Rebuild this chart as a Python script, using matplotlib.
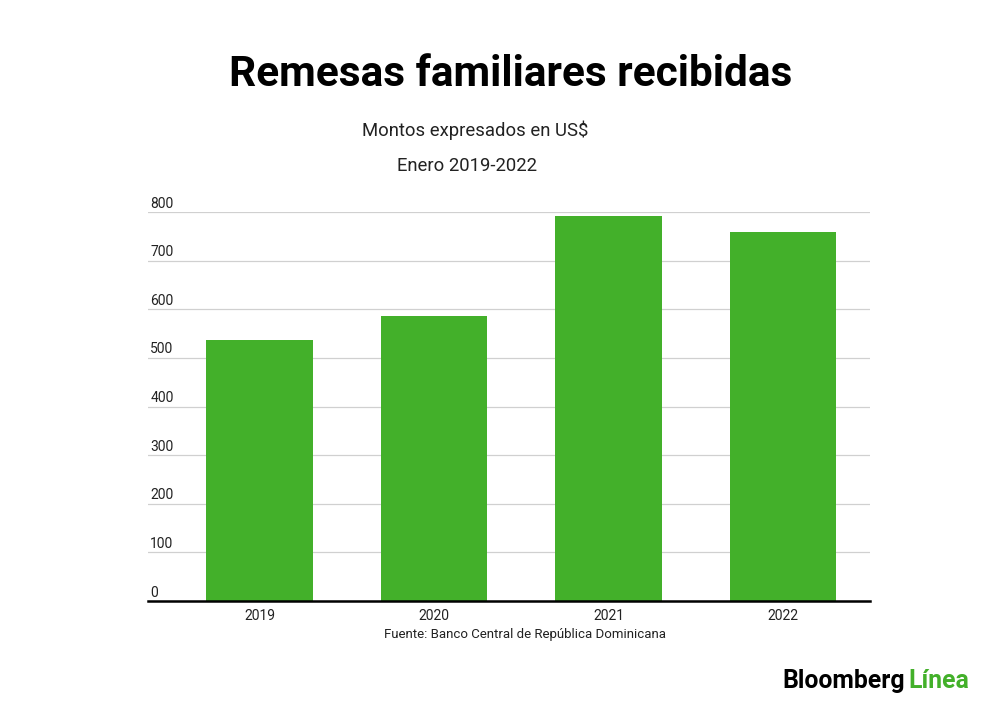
import matplotlib.pyplot as plt
import matplotlib.transforms as mtransforms

years = ['2019', '2020', '2021', '2022']
remesas = [537, 586, 792, 759]
yticks = [0, 100, 200, 300, 400, 500, 600, 700, 800]

green = '#43B02A'
plt.rcParams['font.family'] = ['Roboto', 'DejaVu Sans']

fig = plt.figure(figsize=(10, 7.11), dpi=100)
ax = fig.add_axes([0.148, 0.1547, 0.722, 0.5471])

x = list(range(len(years)))
ax.bar(x, remesas, width=0.61, color=green, zorder=2)

ax.set_xlim(-0.64, 3.5)
ax.set_ylim(0, 800)
ax.set_yticks(yticks)
ax.yaxis.grid(True, color='#d0d0d0', linewidth=0.9, zorder=0)
ax.tick_params(axis='y', length=0, labelleft=False)
ax.set_xticks(x)
ax.set_xticklabels(years, fontsize=10, color='#222222')
ax.tick_params(axis='x', length=0, pad=6)
for s in ['top', 'right', 'left']:
    ax.spines[s].set_visible(False)
ax.spines['bottom'].set_linewidth(1.8)
ax.spines['bottom'].set_color('black')

# y labels sit above the grid lines, at the left edge
trans = mtransforms.blended_transform_factory(ax.transAxes, ax.transData)
for v in yticks:
    ax.text(0.003, v + 3, str(v), transform=trans, ha='left', va='bottom',
            fontsize=10, color='#222222')

fig.text(0.511, 0.895, 'Remesas familiares recibidas', ha='center', va='center',
         fontsize=30.5, fontweight='bold', color='black')
fig.text(0.475, 0.817, 'Montos expresados en US$', ha='center', va='center',
         fontsize=13.3, color='#222222')
fig.text(0.467, 0.766, 'Enero 2019-2022', ha='center', va='center',
         fontsize=13.3, color='#222222')
fig.text(0.525, 0.107, 'Fuente: Banco Central de República Dominicana', ha='center',
         va='center', fontsize=9.5, color='#222222')

# logo
t1 = fig.text(0.782, 0.042, 'Bloomberg', ha='left', va='center', fontsize=17.8,
              fontweight='bold', color='black')
fig.canvas.draw()
bb = t1.get_window_extent()
fig.text(bb.x1 / 1000 + 0.004, 0.042, 'Línea', ha='left', va='center', fontsize=17.8,
         fontweight='bold', color=green)

fig.savefig('out.png', dpi=100, facecolor='white')
